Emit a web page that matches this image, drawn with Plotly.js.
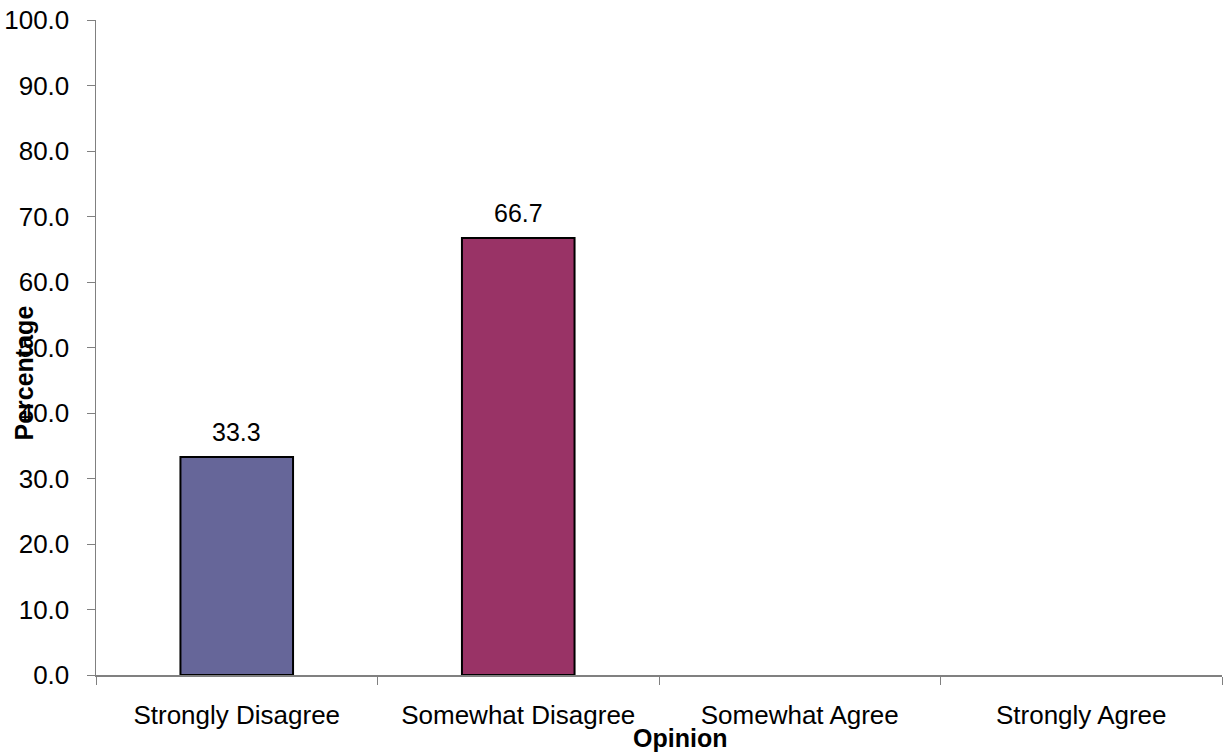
<!DOCTYPE html>
<html>
<head>
<meta charset="utf-8">
<script src="https://cdn.plot.ly/plotly-3.0.1.min.js"></script>
<style>html,body{margin:0;padding:0;background:#fff;}#chart{width:1225px;height:754px;}</style>
</head>
<body>
<div id="chart"></div>
<script>
const categories = ["Strongly Disagree", "Somewhat Disagree", "Somewhat Agree", "Strongly Agree"];
const values = [33.3, 66.7, 0, 0];
const barColors = ["#666699", "#993366", "#666699", "#993366"];
const valueLabels = ["33.3", "66.7"];
const yTitle = "Percentage";
const xTitle = "Opinion";

const FONT = "Liberation Sans, Arial, sans-serif";

const trace = {
  type: "bar",
  x: categories,
  y: values,
  width: 0.4,
  marker: { color: barColors, line: { color: "#000000", width: values.map(v => v > 0 ? 2 : 0) } },
  hoverinfo: "skip"
};

const annotations = valueLabels.map((t, i) => ({
  x: categories[i], y: values[i], xref: "x", yref: "y",
  text: t, showarrow: false, yanchor: "middle", yshift: 25,
  font: { family: FONT, size: 25, color: "#000" }
}));
annotations.push({
  xref: "paper", yref: "paper", x: (680 - 96) / 1126, y: -(738 - 675) / 655,
  text: "<b>" + xTitle + "</b>", showarrow: false, xanchor: "center", yanchor: "middle",
  font: { family: FONT, size: 25, color: "#000" }
});
annotations.push({
  xref: "paper", yref: "paper", x: -(96 - 23) / 1126, y: (675 - 373.5) / 655,
  text: "<b>" + yTitle + "</b>", showarrow: false, textangle: -90, xanchor: "center", yanchor: "middle",
  font: { family: FONT, size: 25, color: "#000" }
});

const layout = {
  width: 1225, height: 754,
  margin: { l: 96, r: 3, t: 20, b: 79 },
  paper_bgcolor: "#fff", plot_bgcolor: "#fff",
  showlegend: false,
  font: { family: FONT, size: 26, color: "#000" },
  xaxis: {
    type: "category",
    tickson: "boundaries",
    ticks: "outside", ticklen: 8, tickcolor: "#808080", tickwidth: 1,
    showline: true, linecolor: "#808080", linewidth: 1.5,
    showgrid: false, zeroline: false,
    tickfont: { family: FONT, size: 26, color: "#000" },
    ticklabelstandoff: 16
  },
  yaxis: {
    range: [0, 100], dtick: 10, tick0: 0, tickformat: ".1f",
    ticks: "outside", ticklen: 8, tickcolor: "#808080", tickwidth: 1,
    showline: true, linecolor: "#808080", linewidth: 1.5,
    showgrid: false, zeroline: false,
    tickfont: { family: FONT, size: 26, color: "#000" },
    ticklabelstandoff: 12
  },
  annotations: annotations
};

Plotly.newPlot("chart", [trace], layout, { displayModeBar: false, staticPlot: true });
</script>
</body>
</html>
